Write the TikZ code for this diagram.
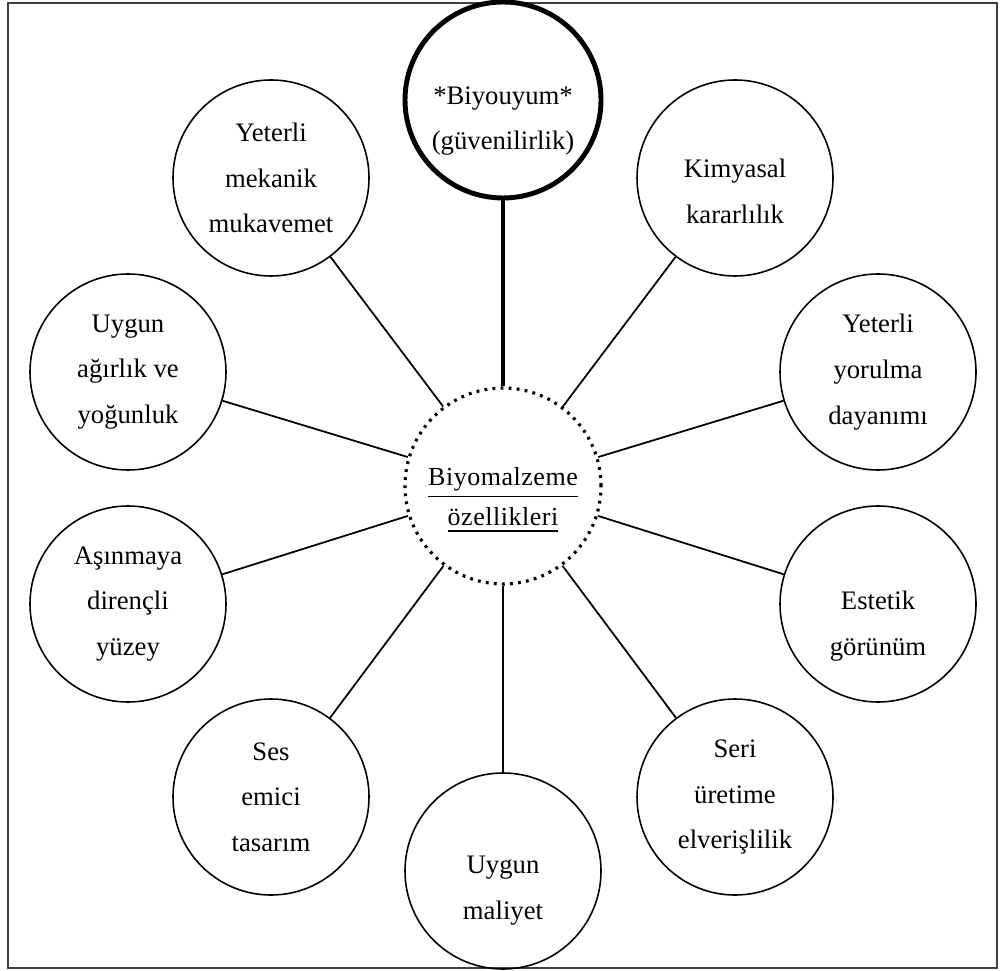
\documentclass[tikz,border=0pt]{standalone}
\usepackage{fontspec}
\setmainfont{Liberation Serif}
\tikzset{
  prop/.style    = {circle,draw,line width=0.45pt,minimum size=1.96cm,inner sep=0pt,
                    align=center,font=\fontsize{7.6}{13}\selectfont},
  keyprop/.style = {prop,line width=1.4pt},
  hub/.style     = {prop,line width=0.9pt,dash pattern=on 0.8pt off 1.5pt,
                    font=\fontsize{7.4}{11.4}\selectfont\addfontfeature{LetterSpace=2}},
  link/.style    = {line width=0.5pt},
  keylink/.style = {line width=1.3pt},
  frameline/.style = {black!75,line width=0.7pt}
}

\begin{document}
\begin{tikzpicture}
  \useasboundingbox (0,0) rectangle (10,9.7);
  \draw[frameline] (0.08,0.02) rectangle (9.97,9.67);
  % the hub and the ten properties round it
  \node[hub]     (core)     at (5.03,4.84) {\mbox{}\\[2pt]\underline{Biyomalzeme}\\\underline{özellikleri}};
  \node[keyprop] (biyouyum) at (5.03,8.70) {\mbox{}\\[4pt]*Biyouyum*\\(güvenilirlik)};
  \node[prop]    (mekanik)  at (2.71,7.92) {Yeterli\\mekanik\\mukavemet};
  \node[prop]    (kimyasal) at (7.35,7.92) {\mbox{}\\Kimyasal\\kararlılık};
  \node[prop]    (agirlik)  at (1.28,5.98) {Uygun\\ağırlık ve\\yoğunluk};
  \node[prop]    (yorulma)  at (8.78,5.98) {Yeterli\\yorulma\\dayanımı};
  \node[prop]    (asinma)   at (1.28,3.66) {Aşınmaya\\dirençli\\yüzey};
  \node[prop]    (estetik)  at (8.78,3.66) {\mbox{}\\[5pt]Estetik\\görünüm};
  \node[prop]    (ses)      at (2.71,1.73) {Ses\\emici\\tasarım};
  \node[prop]    (seri)     at (7.35,1.73) {Seri\\üretime\\elverişlilik};
  \node[prop]    (maliyet)  at (5.03,0.99) {\mbox{}\\[3pt]Uygun\\maliyet};
  % spokes
  \draw[keylink] (core) -- (biyouyum);
  \draw[link] (core) -- (mekanik);
  \draw[link] (core) -- (kimyasal);
  \draw[link] (core) -- (agirlik);
  \draw[link] (core) -- (yorulma);
  \draw[link] (core) -- (asinma);
  \draw[link] (core) -- (estetik);
  \draw[link] (core) -- (ses);
  \draw[link] (core) -- (seri);
  \draw[link] (core) -- (maliyet);
\end{tikzpicture}
\end{document}
